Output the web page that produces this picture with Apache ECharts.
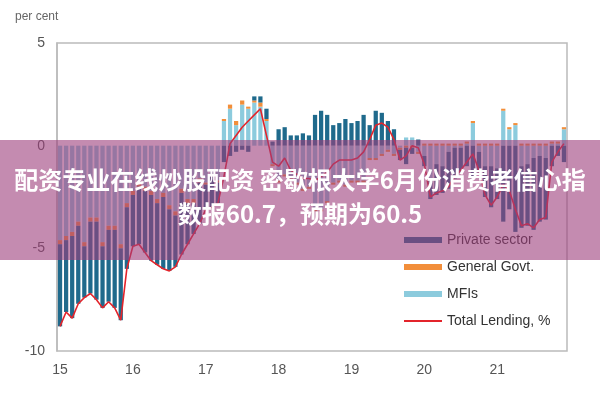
<!DOCTYPE html>
<html>
<head>
<meta charset="utf-8">
<script src="https://cdn.jsdelivr.net/npm/echarts@6/dist/echarts.min.js"></script>
<style>html,body{margin:0;padding:0;background:#fff}#chart{width:600px;height:400px}</style>
</head>
<body>
<div id="chart"></div>
<script>
// monthly, Jan 2015 .. Dec 2021
const months = [];
for (let y = 15; y <= 21; y++) for (let m = 1; m <= 12; m++) months.push(y + '-' + m);

const privateSector = [
  -4, -3.5, -4, -3.8, -2.5, -3.5, -3.8, -3, -3.5, -3.8, -3.5, -3,
  -2.5, -2.8, -3, -3.2, -3, -3.5, -3, -2.5, -3, -2, -1.5, -2,
  -1.2, -1.5, -1, -0.8, -0.5, -0.3, -0.2, -0.3, 0.2, 0.3, 0.5, 0.2,
  0.8, 0.9, 0.5, 0.5, 0.6, 0.5, 1.5, 1.7, 1.5, 1.0, 1.1, 1.3,
  1.1, 1.2, 1.5, 1.0, 1.7, 1.6, 1.2, 0.8, -0.5, -0.8, -0.3, 0.3,
  -0.5, -1, -1.5, -1.3, -1.8, -1.5, -1.2, -1, -1.6, -1, -1.5, -2,
  -1.5, -3.7, -3.1, -4.2, -3, -3, -3.5, -3.2, -3, -1, -0.5, -0.8
];
const generalGovt = [
  -0.2, -0.2, -0.2, -0.2, -0.2, -0.2, -0.2, -0.2, -0.2, -0.2, -0.2, -0.2,
  -0.2, -0.2, -0.2, -0.2, -0.2, -0.2, -0.2, -0.2, -0.2, -0.2, -0.2, -0.2,
  -0.1, -0.1, -0.1, 0.1, 0.2, 0.2, 0.2, 0.1, 0.1, 0.2, 0.1, -0.1,
  -0.1, -0.1, -0.1, -0.1, -0.1, -0.1, -0.1, -0.1, -0.1, -0.1, -0.1, -0.1,
  -0.1, -0.1, -0.1, -0.1, -0.1, -0.1, -0.1, -0.1, -0.1, -0.1, -0.1, -0.1,
  0.1, 0.1, 0.1, 0.1, 0.1, 0.1, 0.1, 0.1, 0.1, 0.1, 0.1, 0.1,
  0.1, 0.1, 0.1, 0.1, 0.1, 0.1, 0.1, 0.1, 0.1, 0.1, 0.1, 0.1
];
const mfis = [
  -4.6, -4.4, -4.2, -3.7, -4.7, -3.5, -3.5, -4.7, -3.9, -3.9, -4.8, -2.8,
  -2.2, -1.8, -2.0, -2.2, -2.6, -2.3, -2.9, -3.2, -2.1, -2.6, -2.6, -1.6,
  -1.8, -1.4, -1.7, 1.2, 1.8, 1.0, 2.0, 1.8, 2.1, 1.9, 1.2, -0.9,
  -1.7, -1.4, -1.6, -1.8, -2.1, -2.0, -3.1, -3.1, -2.7, -1.8, -1.7, -1.9,
  -1.7, -1.7, -1.7, -0.6, -0.6, -0.4, -0.2, -0.4, -0.1, 0.4, 0.4, -0.3,
  -0.5, -1.6, -0.9, -1.0, -0.3, -0.1, -0.1, 0.1, 1.1, -0.3, -1.0, -1.0,
  -1.1, 1.7, 0.8, 1.0, -1.0, -0.9, -0.6, -0.5, -0.6, 0.1, 0.1, 0.8
];
const totalLending = [
  -8.8, -8.1, -8.4, -7.7, -7.4, -7.2, -7.5, -7.9, -7.6, -7.9, -8.5, -6.0,
  -4.9, -4.8, -5.2, -5.6, -5.8, -6.0, -6.1, -5.9, -5.3, -4.8, -4.3, -3.8,
  -3.1, -3.0, -2.8, -1.5, 0.1, 0.5, 0.9, 1.2, 1.5, 1.8, 0.5, -0.8,
  -1.0, -0.6, -1.2, -1.4, -1.6, -1.6, -1.7, -1.5, -1.3, -0.9, -0.7, -0.7,
  -0.7, -0.6, -0.3, 0.3, 1.0, 1.1, 0.9, 0.3, -0.7, -0.5, 0.0, -0.1,
  -0.9, -2.5, -2.3, -2.2, -2.0, -1.5, -1.2, -0.8, -0.4, -1.2, -2.4, -2.9,
  -2.5, -1.9, -2.2, -3.1, -3.9, -3.8, -4.0, -3.6, -3.5, -0.8, -0.3, 0.1
];

const chart = echarts.init(document.getElementById('chart'));
const txt = { color: '#555', fontSize: 14, fontFamily: 'Liberation Sans' };

chart.setOption({
  animation: false,
  title: { text: 'per cent', left: 10, top: 6, textStyle: { color: '#666', fontSize: 12, fontWeight: 'normal', fontFamily: 'Liberation Sans' } },
  grid: { left: 57, right: 33, top: 43, bottom: 49, show: true, borderColor: '#bbb', borderWidth: 1.5 },
  legend: {
    orient: 'vertical', left: 398, top: 228, itemGap: 13, itemWidth: 38, itemHeight: 6,
    textStyle: { color: '#333', fontSize: 14, fontFamily: 'Liberation Sans' },
    data: [
      { name: 'Private sector', icon: 'rect' },
      { name: 'General Govt.', icon: 'rect' },
      { name: 'MFIs', icon: 'rect' },
      { name: 'Total Lending, %', itemStyle: { opacity: 0 } }
    ]
  },
  xAxis: {
    type: 'category', data: months,
    axisLine: { show: false }, axisTick: { show: false },
    axisLabel: { ...txt, interval: (i) => i % 12 === 0, formatter: (v) => v.split('-')[0], margin: 12 }
  },
  yAxis: {
    type: 'value', min: -10, max: 5, interval: 5,
    splitLine: { show: false },
    axisLine: { show: true, lineStyle: { color: '#bbb', width: 1.5 } },
    axisLabel: { ...txt, margin: 12 }
  },
  series: [
    { name: 'MFIs', type: 'bar', stack: 's', barCategoryGap: '30%', data: mfis, itemStyle: { color: '#8ccbdd' } },
    { name: 'General Govt.', type: 'bar', stack: 's', data: generalGovt, itemStyle: { color: '#f28e3a' } },
    { name: 'Private sector', type: 'bar', stack: 's', data: privateSector, itemStyle: { color: '#1f6a8c' } },
    { name: 'Total Lending, %', type: 'line', data: totalLending, symbol: 'none', z: 5, lineStyle: { color: '#e3242b', width: 1.6 }, itemStyle: { color: '#e3242b' } }
  ],
  graphic: [
    { type: 'rect', left: 0, top: 140, z: 100, shape: { width: 600, height: 120 }, style: { fill: 'rgba(156,62,123,0.6)' } },
    { type: 'text', x: 300, y: 180, z: 101, style: { text: '配资专业在线炒股配资 密歇根大学6月份消费者信心指', fill: '#fff', font: 'bold 24px "Noto Sans CJK SC"', align: 'center', verticalAlign: 'middle' } },
    { type: 'text', x: 300, y: 214, z: 101, style: { text: '数报60.7，预期为60.5', fill: '#fff', font: 'bold 24px "Noto Sans CJK SC"', align: 'center', verticalAlign: 'middle' } }
  ]
});
</script>
</body>
</html>
